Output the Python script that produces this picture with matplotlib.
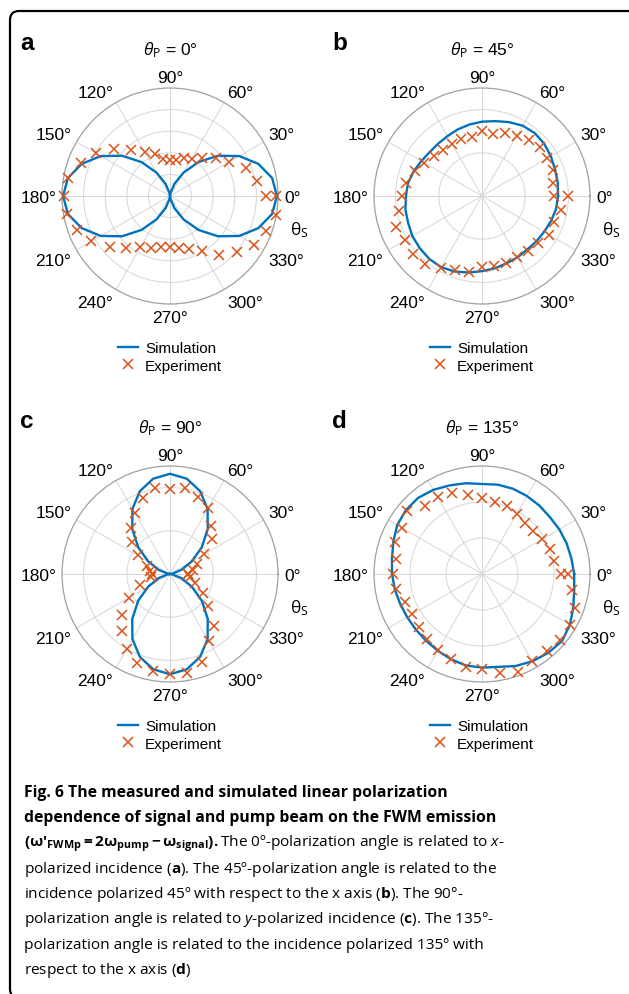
import matplotlib
matplotlib.use("Agg")
import matplotlib.pyplot as plt
import numpy as np
from matplotlib.lines import Line2D
from matplotlib.patches import FancyBboxPatch
from matplotlib.transforms import IdentityTransform

# signal polarization angle theta_S (deg), same grid for simulation and experiment
angles = [0, 10, 20, 30, 40, 50, 60, 70, 80, 90, 100, 110, 120, 130, 140, 150, 160, 170, 180,
          190, 200, 210, 220, 230, 240, 250, 260, 270, 280, 290, 300, 310, 320, 330, 340, 350, 360]

# (a) theta_P = 0
sim_a = [0.99, 0.96, 0.87, 0.74, 0.58, 0.41, 0.25, 0.12, 0.03, 0.00, 0.03, 0.12, 0.25, 0.41, 0.58, 0.74, 0.87, 0.96, 0.99,
         0.96, 0.87, 0.74, 0.58, 0.41, 0.25, 0.12, 0.03, 0.00, 0.03, 0.12, 0.25, 0.41, 0.58, 0.74, 0.87, 0.96, 0.99]
exp_a = [0.89, 0.82, 0.75, 0.63, 0.55, 0.46, 0.40, 0.37, 0.34, 0.33, 0.35, 0.41, 0.47, 0.56, 0.68, 0.79, 0.88, 0.96, 0.98,
         0.97, 0.92, 0.84, 0.73, 0.63, 0.55, 0.51, 0.48, 0.47, 0.49, 0.52, 0.59, 0.71, 0.81, 0.90, 0.95, 1.00, 0.98]
# (b) theta_P = 45
sim_b = [0.88, 0.89, 0.90, 0.92, 0.94, 0.95, 0.94, 0.91, 0.88, 0.86, 0.84, 0.82, 0.80, 0.79, 0.79, 0.81, 0.84, 0.87, 0.88,
         0.90, 0.91, 0.93, 0.94, 0.95, 0.95, 0.93, 0.90, 0.87, 0.85, 0.83, 0.82, 0.81, 0.82, 0.83, 0.85, 0.87, 0.88]
exp_b = [0.99, 0.84, 0.87, 0.87, 0.88, 0.84, 0.80, 0.77, 0.73, 0.75, 0.69, 0.70, 0.69, 0.70, 0.72, 0.77, 0.83, 0.89, 0.93,
         0.97, 1.06, 1.03, 1.05, 1.02, 0.96, 0.91, 0.89, 0.82, 0.82, 0.82, 0.82, 0.83, 0.85, 0.90, 0.89, 0.93, 0.83]
# (c) theta_P = 90
sim_c = [0.00, 0.03, 0.14, 0.29, 0.48, 0.68, 0.87, 1.02, 1.12, 1.16, 1.12, 1.02, 0.87, 0.68, 0.48, 0.29, 0.14, 0.03, 0.00,
         0.03, 0.14, 0.29, 0.48, 0.68, 0.87, 1.02, 1.12, 1.16, 1.12, 1.02, 0.87, 0.68, 0.48, 0.29, 0.14, 0.03, 0.00]
exp_c = [0.21, 0.27, 0.33, 0.46, 0.63, 0.73, 0.88, 0.95, 1.01, 0.98, 1.01, 0.93, 0.81, 0.70, 0.57, 0.43, 0.28, 0.23, 0.21,
         0.22, 0.37, 0.55, 0.73, 0.86, 1.00, 1.10, 1.14, 1.16, 1.16, 1.08, 0.90, 0.79, 0.57, 0.44, 0.31, 0.23, 0.21]
# (d) theta_P = 135
sim_d = [1.28, 1.26, 1.25, 1.24, 1.23, 1.24, 1.25, 1.26, 1.26, 1.25, 1.28, 1.31, 1.35, 1.38, 1.38, 1.36, 1.31, 1.27, 1.25,
         1.23, 1.21, 1.20, 1.20, 1.21, 1.23, 1.26, 1.29, 1.30, 1.31, 1.36, 1.40, 1.43, 1.45, 1.41, 1.35, 1.30, 1.28]
exp_d = [1.10, 1.02, 1.01, 0.96, 0.92, 0.93, 0.96, 1.00, 1.02, 1.05, 1.11, 1.20, 1.23, 1.24, 1.36, 1.28, 1.28, 1.21, 1.24,
         1.21, 1.14, 1.12, 1.14, 1.18, 1.22, 1.25, 1.31, 1.32, 1.40, 1.45, 1.39, 1.40, 1.42, 1.41, 1.37, 1.27, 1.19]

panel_letters = ['a', 'b', 'c', 'd']
pump_angles = ['0°', '45°', '90°', '135°']
r_max = [1.0, 1.25, 1.25, 1.5]
r_rings = [[0.2, 0.4, 0.6, 0.8], [0.5, 1.0], [0.5, 1.0], [0.5, 1.0]]
theta_ticks = [0, 30, 60, 90, 120, 150, 180, 210, 240, 270, 300, 330]
legend_labels = ['Simulation', 'Experiment']

caption = [
    (r'Fig. 6 The measured and simulated linear polarization', 'bold'),
    (r'dependence of signal and pump beam on the FWM emission', 'bold'),
    (r'$\mathbf{(ω′_{FWMp} = 2ω_{pump} - ω_{signal}).}$The 0º-polarization angle is related to $\mathit{x}$-', 'normal'),
    (r'polarized incidence ($\mathbf{a}$). The 45º-polarization angle is related to the', 'normal'),
    (r'incidence polarized 45º with respect to the x axis ($\mathbf{b}$). The 90°-', 'normal'),
    (r'polarization angle is related to $\mathit{y}$-polarized incidence ($\mathbf{c}$). The 135°-', 'normal'),
    (r'polarization angle is related to the incidence polarized 135º with', 'normal'),
    (r'respect to the x axis ($\mathbf{d}$)', 'normal'),
]

BLUE = '#0072BD'
ORANGE = '#D95319'
CAP_FONT = 'Open Sans'

plt.rcParams['font.family'] = ['Liberation Sans', 'DejaVu Sans']
plt.rcParams['mathtext.fontset'] = 'custom'
plt.rcParams['mathtext.rm'] = CAP_FONT
plt.rcParams['mathtext.it'] = CAP_FONT + ':italic'
plt.rcParams['mathtext.bf'] = CAP_FONT + ':bold'

W, H = 629, 995
fig = plt.figure(figsize=(W / 100, H / 100), dpi=100)

R = 108
centers = [(170, 197), (482, 197), (170, 575), (482, 575)]
sims = [sim_a, sim_b, sim_c, sim_d]
exps = [exp_a, exp_b, exp_c, exp_d]

for i, (cx, cy) in enumerate(centers):
    ax = fig.add_axes([(cx - R) / W, (H - cy - R) / H, 2 * R / W, 2 * R / H], projection='polar')
    th = np.deg2rad(angles)
    ax.plot(th, sims[i], color=BLUE, lw=1.7, zorder=3, clip_on=False)
    ax.plot(th, exps[i], ls='none', marker='x', ms=7, mew=1.1, color=ORANGE, zorder=4, clip_on=False)
    ax.set_ylim(0, r_max[i])
    ax.set_rgrids(r_rings[i], labels=[''] * len(r_rings[i]))
    ax.set_thetagrids(theta_ticks, labels=[''] * len(theta_ticks))
    ax.grid(color='#d6d6d6', lw=0.7)
    ax.spines['polar'].set_color('#a0a0a0')
    ax.spines['polar'].set_linewidth(0.9)
    ax.tick_params(length=0)

    for deg in theta_ticks:
        t = np.deg2rad(deg)
        c, s = np.cos(t), np.sin(t)
        ha = 'left' if c > 0.1 else ('right' if c < -0.1 else 'center')
        va = 'baseline' if s > 0.1 else ('top' if s < -0.1 else 'center_baseline')
        ax.annotate(f'{deg}°', xy=(t, r_max[i]), xytext=(4.3 * c, 4.3 * s),
                    textcoords='offset points', ha=ha, va=va, fontsize=12.5,
                    annotation_clip=False)

    ax.text(0.5, 1.18, r'$\mathit{θ}_{\mathrm{P}}$ = ' + pump_angles[i], transform=ax.transAxes,
            ha='center', va='center', fontsize=12.5)
    ax.text(1.1, 0.345, r'$\mathrm{θ}_{\mathrm{S}}$', transform=ax.transAxes,
            ha='center', va='center', fontsize=12.5)

    handles = [Line2D([], [], color=BLUE, lw=1.7),
               Line2D([], [], ls='none', marker='x', ms=7, mew=1.1, color=ORANGE)]
    ax.legend(handles, legend_labels, loc='center', bbox_to_anchor=(0.5, -0.245),
              frameon=False, fontsize=11, handlelength=1.3, handletextpad=0.5,
              labelspacing=0.25, borderpad=0)

    fig.text((cx - 150) / W, 1 - (cy - 147) / H, panel_letters[i], fontsize=17.5,
             fontweight='bold', ha='left', va='baseline')

# caption block
for k, (line, weight) in enumerate(caption):
    fig.text(24 / W, 1 - (797 + 25.3 * k) / H, line, family=[CAP_FONT, 'DejaVu Sans'],
             fontsize=11.3 if weight == 'bold' else 11.1, fontweight=weight,
             ha='left', va='baseline')

# rounded frame around the whole figure (right and bottom edges fall outside)
frame = FancyBboxPatch((10, -4), 700, H - 12 + 4, boxstyle='round,pad=0,rounding_size=9',
                       transform=IdentityTransform(), fill=False, lw=1.6, ec='black')
fig.patches.append(frame)

fig.savefig('out.png', dpi=100)
